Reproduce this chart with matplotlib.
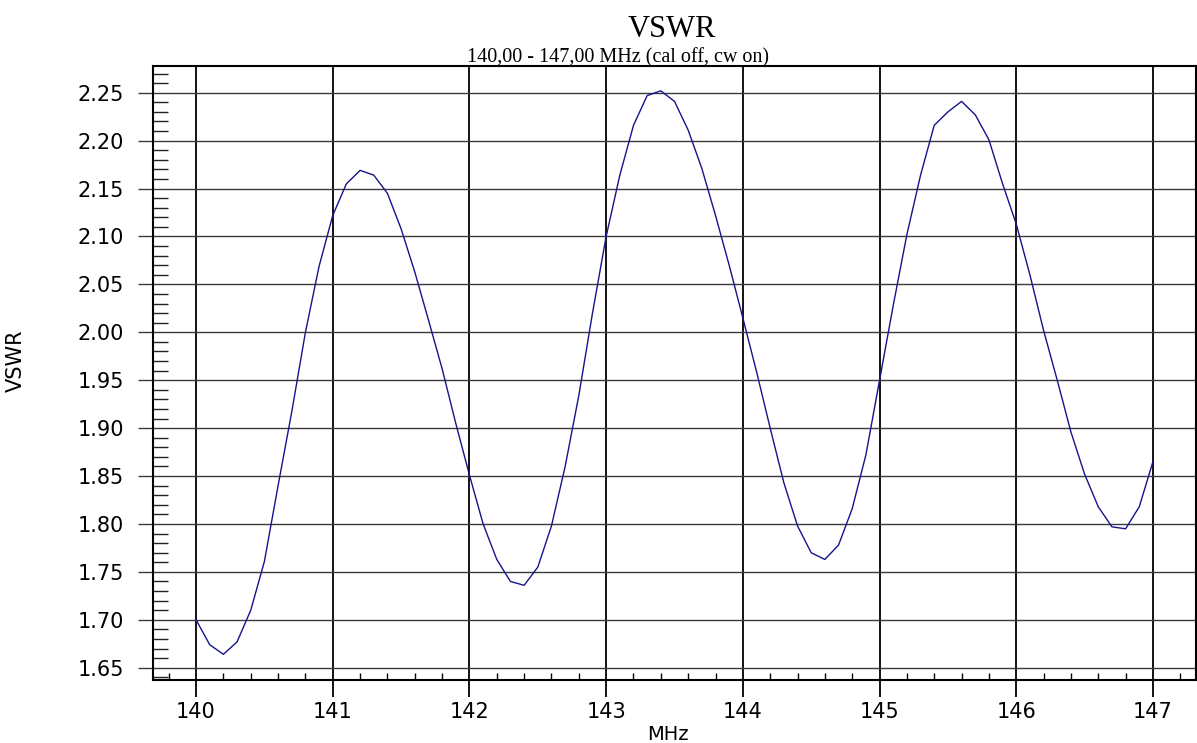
import numpy as np
import matplotlib
matplotlib.use("Agg")
import matplotlib.pyplot as plt
from matplotlib.ticker import MultipleLocator, FormatStrFormatter

# VSWR readings, 140.0 .. 147.0 MHz in 0.1 MHz steps
freq_mhz = np.round(np.arange(140.0, 147.05, 0.1), 1)
vswr = [
    1.700, 1.674, 1.664, 1.677, 1.710, 1.761, 1.840, 1.917, 2.000, 2.069,
    2.122, 2.155, 2.169, 2.164, 2.145, 2.108, 2.063, 2.013, 1.962, 1.905,
    1.851, 1.800, 1.763, 1.740, 1.736, 1.755, 1.798, 1.860, 1.934, 2.020,
    2.100, 2.164, 2.216, 2.247, 2.252, 2.241, 2.211, 2.171, 2.122, 2.070,
    2.015, 1.959, 1.900, 1.843, 1.798, 1.770, 1.763, 1.778, 1.816, 1.872,
    1.950, 2.028, 2.102, 2.164, 2.216, 2.230, 2.241, 2.227, 2.201, 2.155,
    2.113, 2.060, 2.002, 1.950, 1.896, 1.852, 1.818, 1.797, 1.795, 1.818,
    1.865,
]

title = "VSWR"
subtitle = "140,00 - 147,00 MHz (cal off, cw on)"

fig = plt.figure(figsize=(11.97, 7.43), dpi=100)
ax = fig.add_axes([153 / 1197, 63 / 743, 1043 / 1197, 614 / 743])

ax.plot(freq_mhz, vswr, color="#14148c", lw=1.0, zorder=3)

ax.set_xlim(139.685, 147.315)
ax.set_ylim(1.6372, 2.2779)

ax.xaxis.set_major_locator(MultipleLocator(1))
ax.xaxis.set_minor_locator(MultipleLocator(0.2))
ax.yaxis.set_major_locator(MultipleLocator(0.05))
ax.yaxis.set_minor_locator(MultipleLocator(0.01))
ax.xaxis.set_major_formatter(FormatStrFormatter("%d"))
ax.yaxis.set_major_formatter(FormatStrFormatter("%.2f"))

ax.grid(axis="x", which="major", color="black", lw=1.3)
ax.grid(axis="y", which="major", color="#3a3a3a", lw=1.0)

ax.tick_params(axis="x", which="major", direction="out", length=12, width=1.3,
               pad=4, labelsize=15)
ax.tick_params(axis="x", which="minor", direction="in", length=4.8, width=1.0)
ax.tick_params(axis="y", which="major", direction="out", length=11, width=1.0,
               color="#3a3a3a", pad=10, labelsize=15)
ax.tick_params(axis="y", which="minor", direction="in", length=11, width=1.0,
               color="#222222")

for s in ax.spines.values():
    s.set_linewidth(1.5)

ax.set_xlabel("MHz", fontsize=14)
ax.xaxis.set_label_coords(0.494, -0.073)
ax.set_ylabel("VSWR", fontsize=15)
ax.yaxis.set_label_coords(-0.122, 0.52)

# title block, stacked just above the plot frame
fig.text(672 / 1197, 1 - 37 / 743, title, ha="center", va="baseline",
         family="Liberation Serif", fontsize=22)
fig.text(618 / 1197, 1 - 62 / 743, subtitle, ha="center", va="baseline",
         family="Liberation Serif", fontsize=14.5)

fig.savefig("out.png", dpi=100)
